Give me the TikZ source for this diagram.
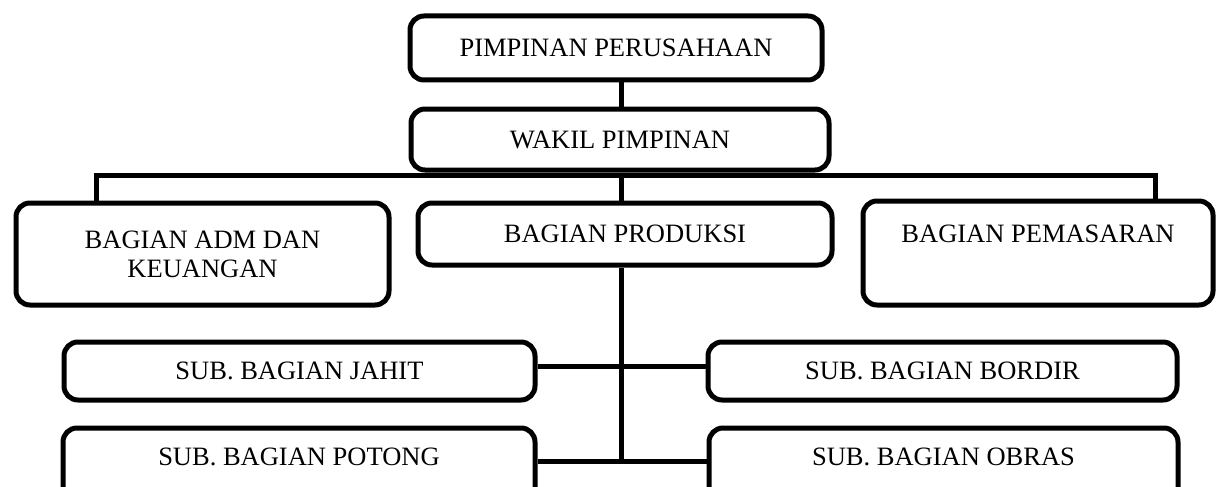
\documentclass[tikz,border=0pt]{standalone}
\usepackage{fontspec}
\setmainfont{Liberation Serif}
\usepackage{tikz}
\usetikzlibrary{positioning,calc}

\begin{document}
\begin{tikzpicture}[x=1pt,y=-1pt]
    \tikzstyle{every node} = [font=\fontsize{26.5}{29}\selectfont]
    \tikzstyle{block} = [draw, line width=5pt, rectangle, fill=white, rounded corners=14pt, inner sep=0pt, align=center]
    \tikzstyle{conn} = [line width=5pt]
    \useasboundingbox (0,0) rectangle (1224,487);
    % place nodes
    \node[block,minimum width=412pt,minimum height=64pt](pimpinan) at (616,48){PIMPINAN PERUSAHAAN};
    \node[block,minimum width=418pt,minimum height=61pt](wakil) at (620,139.5){WAKIL PIMPINAN};
    \node[block,minimum width=373pt,minimum height=102pt](adm) at (202.5,254){BAGIAN ADM DAN\\KEUANGAN};
    \node[block,minimum width=414pt,minimum height=62pt](produksi) at (625,234){BAGIAN PRODUKSI};
    \node[block,minimum width=350pt,minimum height=104pt](pemasaran) at (1038,253){BAGIAN PEMASARAN\\ \strut};
    \node[block,minimum width=471pt,minimum height=58pt](jahit) at (299.5,371){SUB. BAGIAN JAHIT};
    \node[block,minimum width=469pt,minimum height=58pt](bordir) at (942.5,371){SUB. BAGIAN BORDIR};
    \node[block,minimum width=472pt,minimum height=76pt,text depth=18pt](potong) at (299,466){SUB. BAGIAN POTONG};
    \node[block,minimum width=469pt,minimum height=76pt,text depth=18pt](obras) at (943.5,466){SUB. BAGIAN OBRAS};
    \coordinate (spine) at (621,0);
    \coordinate (busL) at (96,175);
    \coordinate (busR) at (1155,175);
    % Connections
    \draw[conn] (pimpinan.south -| spine)--(wakil.north -| spine);
    \draw[conn] (adm.north -| busL)--(busL)--(busR)--(pemasaran.north -| busR);
    \draw[conn] (wakil.south -| spine)--(produksi.north -| spine);
    \draw[conn] (produksi.south -| spine)--([yshift=5pt]potong.east -| spine);
    \draw[conn] ([yshift=5pt]jahit.east)--([yshift=5pt]bordir.west);
    \draw[conn] ([yshift=5pt]potong.east)--([yshift=5pt]obras.west);
  \end{tikzpicture}
\end{document}
